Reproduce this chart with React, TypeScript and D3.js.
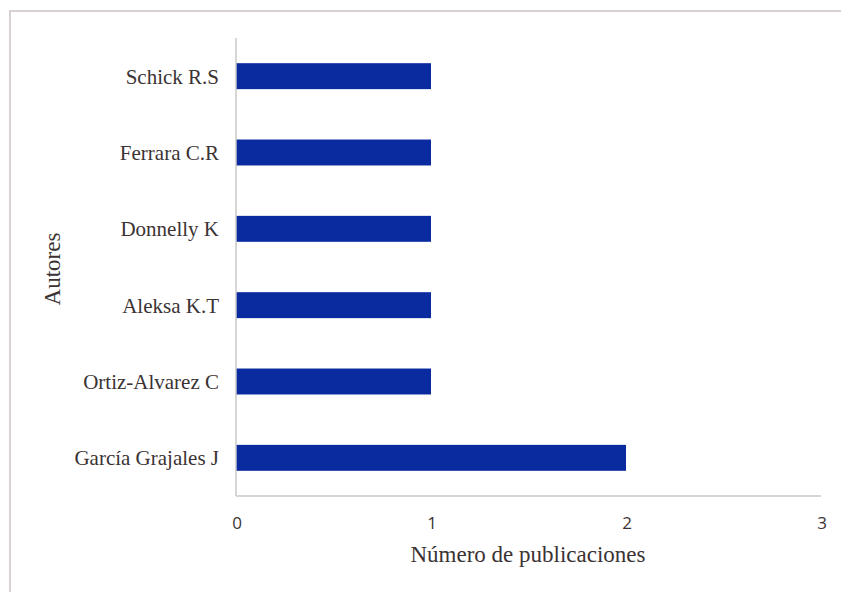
import React from "react";
import * as d3 from "d3";

const authors = [
  "Schick R.S",
  "Ferrara C.R",
  "Donnelly K",
  "Aleksa K.T",
  "Ortiz-Alvarez C",
  "García Grajales J",
];
const publications = [1, 1, 1, 1, 1, 2];
const xTicks = [0, 1, 2, 3];

const W = 841;
const H = 592;
const left = 236;
const right = 821;
const top = 38;
const bottom = 496;

export default function App() {
  const x = d3.scaleLinear().domain([0, 3]).range([left, right]);
  const y = d3
    .scaleBand<string>()
    .domain(authors)
    .range([top, bottom])
    .paddingInner(0.66)
    .paddingOuter(0.33);
  const textColor = "#3b3333";
  const serif = "'Liberation Serif', 'Times New Roman', serif";
  return (
    <svg
      width={W}
      height={H}
      style={{ position: "absolute", left: 0, top: 0, background: "#fff" }}
    >
      <rect x={10} y={11} width={W} height={H} fill="none" stroke="#d8d0d4" strokeWidth={2} />
      {authors.map((a, i) => (
        <g key={a}>
          <rect
            x={x(0)}
            y={y(a)!}
            width={x(publications[i]) - x(0)}
            height={y.bandwidth()}
            fill="#0a2b9f"
          />
          <text
            x={219}
            y={y(a)! + y.bandwidth() / 2}
            dy="0.35em"
            textAnchor="end"
            fontFamily={serif}
            fontSize={21}
            fill={textColor}
          >
            {a}
          </text>
        </g>
      ))}
      <line x1={left} x2={left} y1={top} y2={bottom} stroke="#c8c8c8" strokeWidth={1.5} />
      <line x1={left} x2={right} y1={bottom} y2={bottom} stroke="#c8c8c8" strokeWidth={1.5} />
      {xTicks.map((t) => (
        <text
          key={t}
          x={x(t) + 1}
          y={523}
          dy="0.35em"
          textAnchor="middle"
          fontFamily="'Open Sans', 'DejaVu Sans', sans-serif"
          fontSize={17}
          fill={textColor}
        >
          {t}
        </text>
      ))}
      <text
        x={528}
        y={562}
        textAnchor="middle"
        fontFamily={serif}
        fontSize={23}
        fill={textColor}
      >
        Número de publicaciones
      </text>
      <text
        transform={`translate(60, 269) rotate(-90)`}
        textAnchor="middle"
        fontFamily={serif}
        fontSize={23}
        fill={textColor}
      >
        Autores
      </text>
    </svg>
  );
}
